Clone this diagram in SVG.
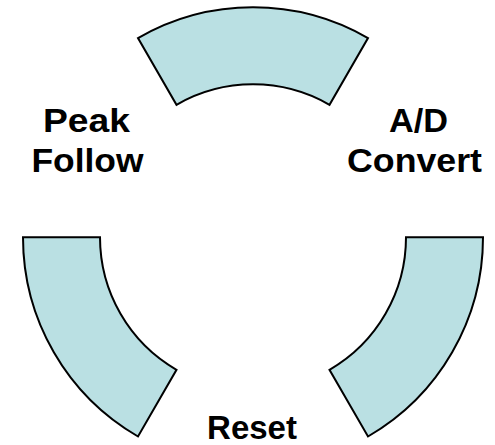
<svg xmlns="http://www.w3.org/2000/svg" width="495" height="445" viewBox="0 0 495 445">
  <style>
    .seg { fill: #BAE0E3; stroke: #000000; stroke-width: 2; stroke-linejoin: miter; }
    .lbl { font-family: "Liberation Sans", Arial, sans-serif; font-weight: bold; font-size: 33px; fill: #000000; text-anchor: middle; }
  </style>
  <rect width="495" height="445" fill="#FFFFFF"/>
  <!-- ring segments, centre (253,237.3), r = 153..230 -->
  <g id="seg-top">
    <path class="seg" d="M138,38.1 A230,230 0 0 1 368,38.1 L329.5,104.8 A153,153 0 0 0 176.5,104.8 Z"/>
  </g>
  <g id="seg-left">
    <path class="seg" d="M23,237.3 L100,237.3 A153,153 0 0 0 176.5,369.8 L138,436.5 A230,230 0 0 1 23,237.3 Z"/>
  </g>
  <g id="seg-right">
    <path class="seg" d="M406,237.3 L483,237.3 A230,230 0 0 1 368,436.5 L329.5,369.8 A153,153 0 0 0 406,237.3 Z"/>
  </g>
  <g id="label-peak-follow">
    <text class="lbl" x="86.5" y="132" textLength="87" lengthAdjust="spacingAndGlyphs">Peak</text>
    <text class="lbl" x="87.5" y="172" textLength="112" lengthAdjust="spacingAndGlyphs">Follow</text>
  </g>
  <g id="label-ad-convert">
    <text class="lbl" x="418.5" y="132" textLength="59" lengthAdjust="spacingAndGlyphs">A/D</text>
    <text class="lbl" x="414.5" y="172" textLength="135" lengthAdjust="spacingAndGlyphs">Convert</text>
  </g>
  <g id="label-reset">
    <text class="lbl" x="252" y="439">Reset</text>
  </g>
  <g id="connectors"></g>
</svg>
